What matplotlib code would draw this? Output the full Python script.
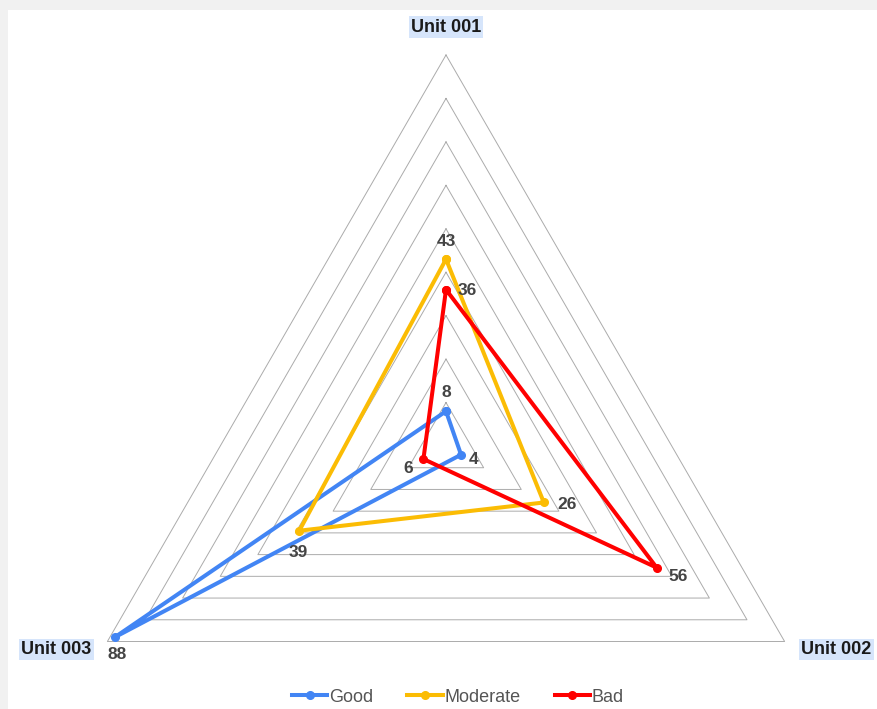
import numpy as np
import matplotlib
matplotlib.use("Agg")
import matplotlib.pyplot as plt
from matplotlib.patches import Rectangle

# --- data
units    = ["Unit 001", "Unit 002", "Unit 003"]
good     = [8, 4, 88]
moderate = [43, 26, 39]
bad      = [36, 56, 6]
r_max    = 90
rings    = [10, 20, 30, 40, 50, 60, 70, 80, 90]

# --- styles
series = [("Good", good, "#4285f4"),
          ("Moderate", moderate, "#fbbc04"),
          ("Bad", bad, "#ff0000")]
# data label offsets in pixels, one per point (series order, unit order)
label_offsets = {
    "Good":     [(0, 19), (13, -5), (2, -17)],
    "Moderate": [(0, 18), (23, -2), (-1, -22)],
    "Bad":      [(21, -1), (21, -9), (-15, -9)],
}
unit_offsets = [(0, 28), (52, -8), (-51, -8)]

plt.rcParams['font.family'] = ['Liberation Sans', 'DejaVu Sans']

W, H = 878, 709
fig = plt.figure(figsize=(W / 100, H / 100), dpi=100)
fig.patch.set_facecolor("#f1f1f1")
fig.patches.append(Rectangle((8 / W, 0), 1, 1 - 10 / H, transform=fig.transFigure,
                             facecolor="white", edgecolor="none", zorder=-10))

# polar axes centred at (446, 446) px, radius 391 px
cx, cy, rad = 446, 446, 391
ax = fig.add_axes([(cx - rad) / W, (H - cy - rad) / H, 2 * rad / W, 2 * rad / H],
                  projection="polar")
ax.patch.set_visible(False)
ax.set_theta_offset(np.pi / 2)
ax.set_theta_direction(-1)
ax.set_ylim(0, r_max)
ax.set_xticks([])
ax.set_yticks([])
ax.grid(False)
ax.spines["polar"].set_visible(False)

angles = np.linspace(0, 2 * np.pi, len(units), endpoint=False)
closed = np.append(angles, angles[0])

# --- triangular grid
for r in rings:
    ax.plot(closed, [r] * len(closed), color="#ababab", lw=0.7, zorder=1, clip_on=False)

# --- series
for name, vals, col in series:
    v = np.append(vals, vals[0])
    ax.plot(closed, v, color=col, lw=2.9, marker="o", ms=5.5, label=name,
            zorder=3, solid_joinstyle="miter", clip_on=False)
    for a, val, off in zip(angles, vals, label_offsets[name]):
        ax.annotate(str(val), xy=(a, val), xytext=off, textcoords="offset pixels",
                    ha="center", va="center", fontsize=12.5, fontweight="bold",
                    color="#444444", annotation_clip=False, zorder=4)

# --- unit labels
for a, name, off in zip(angles, units, unit_offsets):
    ax.annotate(name, xy=(a, r_max), xytext=off, textcoords="offset pixels",
                ha="center", va="center", fontsize=13, fontweight="bold",
                color="#1a1a1a", annotation_clip=False,
                bbox=dict(boxstyle="square,pad=0.12", facecolor="#d6e5fb", edgecolor="none"))

leg = fig.legend(loc="center", bbox_to_anchor=(458 / W, 1 - 697 / H), ncol=3, frameon=False,
                 fontsize=13, handlelength=1.95, handletextpad=0.1, columnspacing=1.9,
                 labelcolor="#555555")

fig.savefig("out.png", dpi=100, facecolor=fig.get_facecolor())
